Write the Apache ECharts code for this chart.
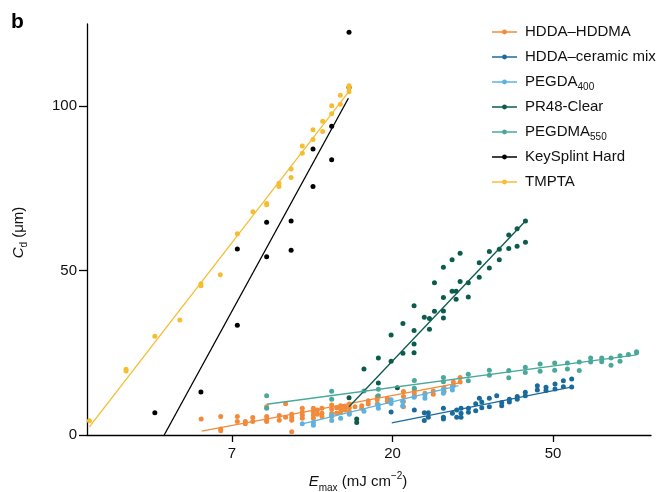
<!DOCTYPE html>
<html><head><meta charset="utf-8">
<script src="https://cdn.jsdelivr.net/npm/echarts@6/dist/echarts.min.js"></script>
<style>html,body{margin:0;padding:0;background:#fff}#c{width:660px;height:492px}</style>
</head><body><div id="c"></div>
<script>
// Legend names (digits after PEGDA / PEGDMA are subscripts)
const seriesNames = ['HDDA–HDDMA', 'HDDA–ceramic mix', 'PEGDA400', 'PR48-Clear', 'PEGDMA550', 'KeySplint Hard', 'TMPTA'];
const seriesColors = ['#f28a3b', '#1b6a9c', '#5cb3e0', '#0c5c4d', '#4aa89b', '#000000', '#f6bd33'];

// Measured points: [Emax (mJ cm^-2), Cd (µm)]
const hddaHddma = [[6.10,4.9],[6.89,5.6],[6.89,1.8],[6.89,1.3],[7.64,5.6],[7.64,4.1],[8.03,4.1],[8.03,3.4],[8.41,5.3],[8.41,4.1],[9.17,8.6],[9.17,5.6],[9.17,4.6],[9.17,4.1],[9.92,5.9],[9.92,4.5],[10.32,9.5],[10.32,5.4],[10.72,6.3],[10.72,5.3],[10.72,4.5],[10.72,1.0],[11.45,8.1],[11.45,7.0],[11.45,6.0],[11.45,5.1],[12.27,8.1],[12.27,7.1],[12.27,6.1],[12.27,5.1],[12.58,7.6],[12.58,6.3],[12.94,8.1],[12.94,6.6],[12.94,5.6],[13.75,9.1],[13.75,7.9],[13.75,6.6],[13.75,5.6],[14.18,8.3],[14.18,6.6],[14.54,8.9],[14.54,7.9],[14.54,6.9],[14.94,8.6],[14.94,7.6],[15.35,9.4],[15.35,8.3],[15.35,7.1],[15.9,8.6],[16.58,8.9],[16.58,8.1],[17.27,10.4],[17.27,9.4],[18.26,11.7],[18.26,10.7],[18.26,9.4],[19.45,11.2],[19.45,10.2],[21.5,13.2],[21.5,11.7],[21.5,10.2],[21.5,8.6],[23.01,13.7],[23.01,12.7],[23.01,11.7],[24.58,12.7],[25.89,13.4],[25.89,12.4],[27.69,14.4],[27.69,13.2],[29.34,16.1],[29.34,15.0],[30.6,17.5],[30.6,16.1]];
const hddaCeramic = [[19.91,7.0],[23.01,7.6],[24.48,6.8],[24.48,4.4],[25.1,6.8],[25.1,5.4],[27.58,8.1],[27.58,5.4],[27.58,4.9],[29.17,6.6],[29.96,7.6],[29.96,5.4],[30.78,8.1],[30.78,6.6],[30.78,5.4],[32.23,8.1],[32.23,6.9],[33.72,9.5],[33.72,7.4],[34.5,11.2],[35.02,10.0],[35.02,8.3],[36.71,11.2],[36.71,8.6],[38.44,11.9],[39.65,9.9],[39.65,8.9],[41.59,10.9],[41.59,10.0],[43.68,11.7],[43.68,10.9],[45.93,13.0],[45.93,11.9],[49.5,15.0],[49.5,13.7],[52.25,14.5],[52.25,13.5],[55.26,15.5],[55.26,14.0],[58.21,16.5],[58.21,14.7],[61.32,17.0],[61.32,14.6]];
const pegda400 = [[11.45,3.4],[12.27,3.8],[12.27,3.0],[13.75,4.4],[13.75,6.0],[14.54,5.1],[15.35,6.3],[16.81,7.2],[18.39,9.2],[18.39,8.1],[19.91,10.7],[19.91,9.6],[21.39,10.2],[21.39,8.8],[22.97,11.5],[24.58,12.2],[24.58,11.2],[27.58,13.9],[27.58,12.7],[29.17,14.7],[29.17,13.7]];
const pr48Clear = [[15.32,11.3],[16.07,4.9],[16.07,3.8],[16.81,20.1],[18.39,23.4],[18.39,15.8],[19.91,30.4],[19.91,22.4],[20.7,14.4],[21.43,33.9],[21.43,24.9],[22.97,39.3],[22.97,31.8],[22.97,27.7],[22.97,25.0],[24.48,35.8],[25.28,35.4],[25.28,32.2],[26.08,46.3],[26.08,37.6],[27.58,51.0],[27.58,41.8],[27.58,37.7],[27.58,35.6],[29.11,53.3],[29.11,43.7],[29.85,43.7],[29.85,41.3],[30.6,55.3],[30.6,46.7],[32.2,46.3],[32.2,42.0],[34.47,52.4],[34.47,48.0],[36.71,55.8],[36.71,50.8],[39.06,56.5],[39.06,53.3],[41.43,60.8],[41.43,56.7],[43.64,62.7],[43.64,57.4],[45.97,65.1],[45.97,58.6]];
const pegdma550 = [[9.17,11.9],[9.17,8.1],[13.75,13.3],[13.75,10.9],[16.81,13.4],[18.39,13.9],[18.39,11.9],[23.01,16.6],[23.01,14.2],[27.58,17.5],[27.58,16.2],[32.2,18.5],[32.2,16.5],[36.71,19.7],[36.71,18.2],[41.43,19.6],[41.43,17.4],[45.93,20.6],[45.93,19.0],[50.36,21.6],[50.36,19.4],[55.15,21.9],[55.15,19.7],[59.69,21.9],[59.69,20.1],[64.27,22.2],[64.27,19.6],[69.0,23.4],[69.0,22.2],[73.93,23.4],[73.93,22.3],[78.34,23.4],[78.34,21.2],[82.85,24.1],[82.85,22.4],[87.28,24.5],[91.84,25.3],[91.84,25.0]];
const keySplint = [[4.57,6.8],[6.09,13.1],[7.64,33.4],[7.64,56.6],[9.17,54.2],[9.17,64.7],[10.68,56.2],[10.68,65.1],[12.24,75.6],[12.24,87.0],[13.75,83.7],[13.75,93.9],[15.32,105.7],[15.32,122.5]];
const tmpta = [[3.04,4.3],[3.82,19.5],[3.82,20.0],[4.57,30.0],[5.34,35.0],[6.09,46.0],[6.09,45.4],[6.87,48.7],[7.64,61.2],[8.42,67.9],[9.17,70.4],[9.17,70.0],[9.9,76.6],[9.9,75.6],[10.68,80.9],[10.68,78.3],[11.45,87.9],[11.45,85.7],[12.24,92.8],[12.24,89.9],[13.0,95.4],[13.0,92.3],[13.75,100.1],[13.75,97.7],[14.51,103.3],[14.51,100.6],[15.32,106.2],[15.32,104.4],[15.32,105.6]];

// Fitted lines: two end points each [Emax, Cd]
const hddaHddmaFit = [[6.12,1.2],[30.27,15.8]];
const hddaCeramicFit = [[19.99,3.7],[61.99,14.7]];
const pegda400Fit = [[11.45,3.35],[30.27,15.0]];
const pr48ClearFit = [[15.32,8.6],[45.97,65.1]];
const pegdma550Fit = [[9.17,9.35],[91.84,24.4]];
const keySplintFit = [[4.845,0],[15.26,102.4]];
const tmptaFit = [[3.04,2.5],[15.32,104.5]];

// Axis ticks (x axis is ln Emax; ticks at ln = 2,3,4)
const xTickPos = [2, 3, 4];
const xTickLabels = ['7', '20', '50'];
const yTicks = [0, 50, 100];

const points = [hddaHddma, hddaCeramic, pegda400, pr48Clear, pegdma550, keySplint, tmpta];
const fits = [hddaHddmaFit, hddaCeramicFit, pegda400Fit, pr48ClearFit, pegdma550Fit, keySplintFit, tmptaFit];
const toLn = arr => arr.map(p => [Math.log(p[0]), p[1]]);

const FONT = 'Liberation Sans, Arial, Helvetica, sans-serif';
const series = [];
seriesNames.forEach((name, i) => {
  series.push({
    name, type: 'line', data: toLn(fits[i]), showSymbol: false, symbol: 'circle',
    color: seriesColors[i], lineStyle: { width: 1.3, color: seriesColors[i] },
    z: 4, silent: true, animation: false
  });
});
seriesNames.forEach((name, i) => {
  series.push({
    name, type: 'scatter', data: toLn(points[i]), symbolSize: 5,
    itemStyle: { color: seriesColors[i], opacity: 1 }, z: 2 + i * 0.01, silent: true, animation: false
  });
});

const chart = echarts.init(document.getElementById('c'), null, { renderer: 'canvas' });
chart.setOption({
  animation: false,
  backgroundColor: '#fff',
  textStyle: { fontFamily: FONT },
  graphic: [{ type: 'text', left: 11, top: 12, style: { text: 'b', font: 'bold 21px ' + FONT, fill: '#000' } }],
  grid: { left: 87, right: 9, top: 24, bottom: 57, containLabel: false, outerBoundsMode: 'none' },
  legend: {
    data: seriesNames, orient: 'vertical', left: 486, top: 17,
    itemWidth: 25, itemHeight: 6, itemGap: 5,
    lineStyle: { width: 2, opacity: 0.75 },
    formatter: n => n.replace(/^(PEGDM?A)(\d+)$/, '$1{sub|$2}'),
    textStyle: {
      fontSize: 15, color: '#111', fontFamily: FONT, lineHeight: 20, padding: [0, 0, 0, 3],
      rich: { sub: { fontSize: 10, lineHeight: 20, verticalAlign: 'bottom', fontFamily: FONT, color: '#111' } }
    }
  },
  xAxis: {
    type: 'value', min: 1.097, max: 4.61,
    name: '{i|E}{sub|max} (mJ cm{sup|−2})', nameLocation: 'middle', nameGap: 36,
    nameTextStyle: {
      fontSize: 15, color: '#111', lineHeight: 22, padding: [0, 22, 0, 0],
      rich: {
        i: { fontStyle: 'italic', fontSize: 15, lineHeight: 22 },
        sub: { fontSize: 10, lineHeight: 22, verticalAlign: 'bottom' },
        sup: { fontSize: 10, lineHeight: 22, verticalAlign: 'top' }
      }
    },
    axisLine: { lineStyle: { color: '#000', width: 1.3 } },
    axisTick: { customValues: xTickPos, length: 7, lineStyle: { color: '#000', width: 1.3 } },
    axisLabel: { customValues: xTickPos, fontSize: 15, color: '#111', margin: 11,
      formatter: v => xTickLabels[xTickPos.indexOf(Math.round(v))] || '' },
    splitLine: { show: false }
  },
  yAxis: {
    type: 'value', min: 0, max: 125,
    name: '{i|C}{sub|d} (μm)', nameLocation: 'middle', nameGap: 58, nameRotate: 90,
    nameTextStyle: {
      fontSize: 15, color: '#111', lineHeight: 20, padding: [0, 6, 0, 0],
      rich: {
        i: { fontStyle: 'italic', fontSize: 15, lineHeight: 20 },
        sub: { fontSize: 10, lineHeight: 20, verticalAlign: 'bottom' }
      }
    },
    axisLine: { show: true, lineStyle: { color: '#000', width: 1.3 } },
    axisTick: { show: true, customValues: yTicks, length: 8, lineStyle: { color: '#000', width: 1.3 } },
    axisLabel: { customValues: yTicks, fontSize: 15, color: '#111', margin: 10 },
    splitLine: { show: false }
  },
  series
});
</script></body></html>
